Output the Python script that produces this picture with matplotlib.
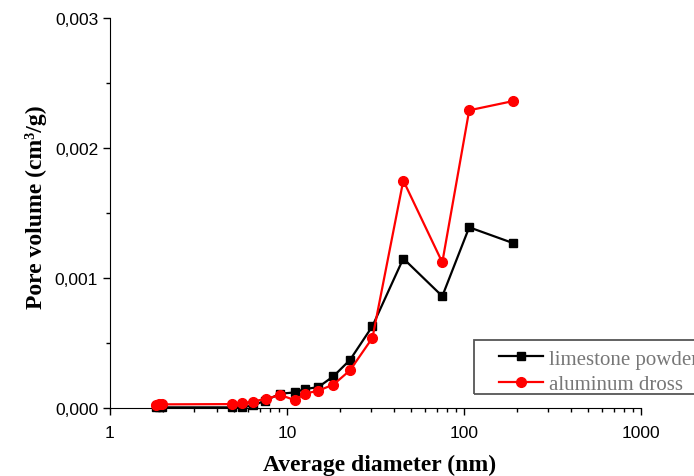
import matplotlib
matplotlib.use("Agg")
import matplotlib.pyplot as plt
from matplotlib.patches import Rectangle
from matplotlib.ticker import FuncFormatter, MultipleLocator, LogLocator, NullFormatter

# data
diam_lime = [1.82, 1.89, 1.97, 4.87, 5.55, 6.45, 7.5, 9.17, 11.1, 12.6, 15.0, 18.3, 22.7, 30.4, 45.4, 75.4, 107, 188]
vol_lime = [0.000005, 0.000005, 0.000005, 0.000005, 0.000005, 0.00002, 0.000056, 0.00011, 0.00012, 0.000146,
            0.00016, 0.000244, 0.00037, 0.00063, 0.00115, 0.00086, 0.00139, 0.00127]

diam_dross = [1.82, 1.89, 1.97, 4.87, 5.55, 6.4, 7.58, 9.17, 11.1, 12.6, 15.0, 18.3, 22.7, 30.4, 45.4, 75.4, 107, 188]
vol_dross = [0.000026, 0.000027, 0.000028, 0.00003, 0.000036, 0.00005, 0.00007, 0.0001, 0.00006, 0.00011,
             0.000133, 0.00018, 0.00029, 0.00054, 0.00175, 0.00112, 0.00229, 0.00236]

fig = plt.figure(figsize=(6.94, 4.77), dpi=100)
ax = fig.add_axes([110/694, 68/477, 531/694, 390/477])

ax.plot(diam_lime, vol_lime, color="black", marker="s", markersize=6, linewidth=1.6,
        label="limestone powder", clip_on=False, zorder=3)
ax.plot(diam_dross, vol_dross, color="red", marker="o", markersize=7, linewidth=1.6,
        label="aluminum dross", clip_on=False, zorder=4)

ax.set_xscale("log")
ax.set_xlim(1, 1000)
ax.set_ylim(0, 0.003)

ax.xaxis.set_major_locator(LogLocator(base=10))
ax.xaxis.set_minor_locator(LogLocator(base=10, subs=range(2, 10)))
ax.xaxis.set_minor_formatter(NullFormatter())
ax.xaxis.set_major_formatter(FuncFormatter(lambda v, p: "%g" % v))
ax.yaxis.set_major_locator(MultipleLocator(0.001))
ax.yaxis.set_minor_locator(MultipleLocator(0.0005))
ax.yaxis.set_major_formatter(FuncFormatter(lambda v, p: ("%.3f" % v).replace(".", ",")))

ax.spines["top"].set_visible(False)
ax.spines["right"].set_visible(False)
ax.tick_params(which="major", direction="out", length=5, width=1, labelsize=12.5)
ax.tick_params(axis="x", which="major", pad=7.5)
ax.tick_params(which="minor", direction="out", length=3, width=1)
for lab in ax.get_xticklabels() + ax.get_yticklabels():
    lab.set_fontfamily("Liberation Sans")

ax.set_xlabel("Average diameter (nm)", fontfamily="Liberation Serif", fontweight="bold", fontsize=17)
ax.set_ylabel("Pore volume (cm³/g)", fontfamily="Liberation Serif", fontweight="bold", fontsize=17)
ax.xaxis.set_label_coords(0.508, -0.118)
ax.yaxis.set_label_coords(-0.119, 0.517)

# legend frame runs past the right edge of the figure, as in the original
frame = Rectangle((474/694, 82/477), 0.4, 54/477, transform=fig.transFigure, fill=False,
                  edgecolor="#555555", linewidth=1.3, zorder=5)
fig.patches.append(frame)

leg = ax.legend(loc="upper left", bbox_to_anchor=(499/694, 127/477), bbox_transform=fig.transFigure,
                prop={"family": "Liberation Serif", "size": 15}, frameon=False,
                borderpad=0, borderaxespad=0, handlelength=2.1, handletextpad=0.3, labelspacing=0.3)
for t in leg.get_texts():
    t.set_color("#777777")

fig.savefig("out.png", dpi=100)
